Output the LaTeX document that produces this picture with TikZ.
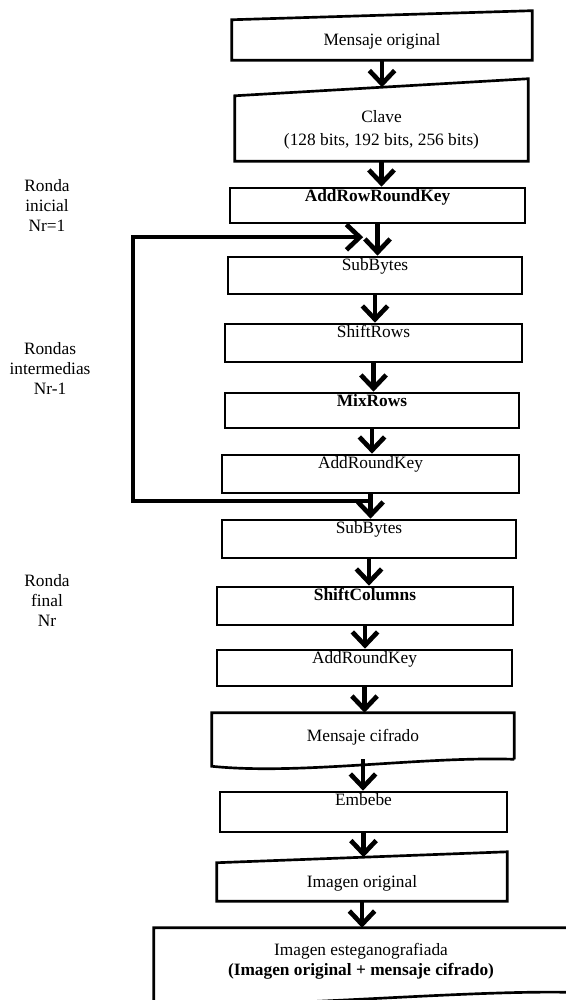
\documentclass[tikz,border=0pt]{standalone}
\usepackage{fontspec}
\setmainfont{Liberation Serif}
\usetikzlibrary{arrows.meta}
\usetikzlibrary{calc}

\begin{document}
\begin{tikzpicture}[x=0.75pt,y=-0.75pt,
		font=\fontsize{13}{15}\selectfont,
		caja/.style={draw=black,line width=2pt,inner sep=0pt},
		hueco/.style={inner sep=0pt},
		borde/.style={line width=2pt,line join=miter},
		arriba/.style={label={[inner sep=1pt,anchor=north,yshift=-1pt]north:#1}},
		flecha/.style={line width=3.5pt,-{Straight Barb[length=10pt,width=19pt]}},
		lazo/.style={line width=3pt,-{Straight Barb[length=10pt,width=19pt,line width=3.5pt]}},
		lado/.style={align=center}]
		\useasboundingbox (0,0) rectangle (566,1000);
		% entrada
		\node[hueco,minimum width=225pt,minimum height=33.4pt,label={[yshift=-3pt]center:Mensaje original}] (msg) at (382,37.75) {};
		\draw[borde] ([yshift=-3.4pt]msg.north west) -- ([yshift=3.4pt]msg.north east) -- (msg.south east) -- (msg.south west) -- cycle;
		\node[hueco,minimum width=219.75pt,minimum height=55.1pt,label={[yshift=-4pt,align=center]center:Clave\\[2pt](128 bits, 192 bits, 256 bits)}] (clave) at (381.5,124.25) {};
		\draw[borde] ([yshift=-6.4pt]clave.north west) -- ([yshift=6.4pt]clave.north east) -- (clave.south east) -- (clave.south west) -- cycle;
		% rondas
		\node[caja,minimum width=221.25pt,minimum height=26.25pt,arriba=\bfseries AddRowRoundKey] (addrow) at (377.5,205.5) {};
		\node[caja,minimum width=220.5pt,minimum height=27.75pt,arriba=SubBytes] (sub1) at (375,275.5) {};
		\node[caja,minimum width=222.75pt,minimum height=28.5pt,arriba=ShiftRows] (shift) at (373.5,343) {};
		\node[caja,minimum width=220.5pt,minimum height=26.25pt,arriba=\bfseries MixRows] (mix) at (372,410.5) {};
		\node[caja,minimum width=222.75pt,minimum height=28.5pt,arriba=AddRoundKey] (addkey1) at (370.5,474) {};
		\node[caja,minimum width=220.5pt,minimum height=28.5pt,arriba=SubBytes] (sub2) at (369,539) {};
		\node[caja,minimum width=222pt,minimum height=28.5pt,arriba=\bfseries ShiftColumns] (shiftcol) at (365,606) {};
		\node[caja,minimum width=221.25pt,minimum height=27pt,arriba=AddRoundKey] (addkey2) at (364.5,668) {};
		% salida
		\node[hueco,minimum width=226.5pt,minimum height=34.5pt,label={[yshift=-1pt]center:Mensaje cifrado}] (cifrado) at (363,736) {};
		\draw[borde] (cifrado.south east) -- (cifrado.north east) -- (cifrado.north west) -- ($(cifrado.south west)+(0,7)$)
			.. controls ($(cifrado.south west)+(88,16)$) and ($(cifrado.south east)+(-94,-3)$) .. (cifrado.south east);
		\node[caja,minimum width=215.25pt,minimum height=30pt,arriba=Embebe] (embebe) at (363.5,812) {};
		\node[hueco,minimum width=217.5pt,minimum height=32.6pt,label={[yshift=-3pt]center:Imagen original}] (imgorig) at (362,879.25) {};
		\draw[borde] ([yshift=-4.1pt]imgorig.north west) -- ([yshift=4.1pt]imgorig.north east) -- (imgorig.south east) -- (imgorig.south west) -- cycle;
		\node[hueco,minimum width=310.5pt,minimum height=48pt,label={[yshift=-1pt,align=center]center:Imagen esteganografiada\\{\bfseries (Imagen original + mensaje cifrado)}}] (estego) at (361,960) {};
		\draw[borde] (estego.south east) -- (estego.north east) -- (estego.north west) -- ($(estego.south west)+(0,12)$)
			.. controls ($(estego.south west)+(120,16)$) and ($(estego.south east)+(-110,-2)$) .. (estego.south east);
		% flechas
		\foreach \a/\b in {msg/clave,clave/addrow,addrow/sub1,sub1/shift,shift/mix,mix/addkey1,addkey1/sub2,sub2/shiftcol,shiftcol/addkey2,addkey2/cifrado,cifrado/embebe,embebe/imgorig,imgorig/estego}
			\draw[flecha] (\a.south) -- (\a.south |- \b.north);
		% lazo de las rondas intermedias
		\coordinate (entra) at ($(addrow.south)!0.41!(sub1.north)$);
		\coordinate (sale) at ($(addkey1.south)!0.26!(sub2.north)$);
		\draw[lazo] (sale) -- ++(-237,0) |- ([xshift=-10pt]entra);
		% etiquetas
		\node[lado] (inicial) at (47,205) {Ronda\\inicial\\Nr=1};
		\node[lado] (intermedias) at (50,368) {Rondas\\intermedias\\Nr-1};
		\node[lado] (final) at (47,600) {Ronda\\final\\Nr};
	\end{tikzpicture}
\end{document}
